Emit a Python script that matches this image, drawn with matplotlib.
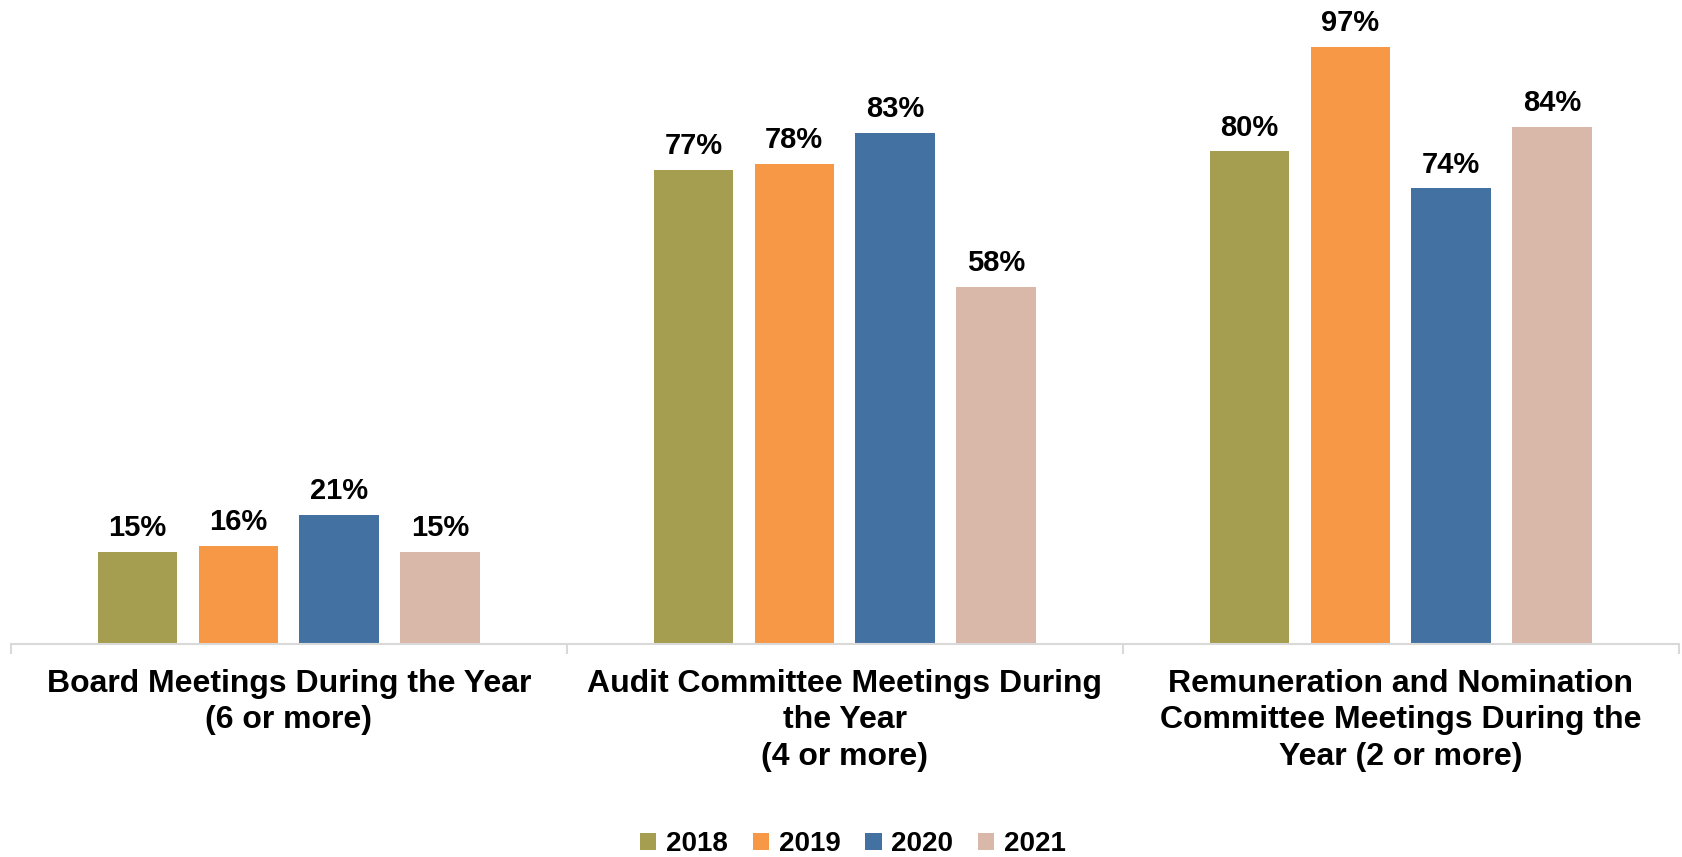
import matplotlib.pyplot as plt
import numpy as np

categories = [
    "Board Meetings During the Year\n(6 or more)",
    "Audit Committee Meetings During\nthe Year\n(4 or more)",
    "Remuneration and Nomination\nCommittee Meetings During the\nYear (2 or more)",
]
years = ["2018", "2019", "2020", "2021"]
values = {
    "2018": [15, 77, 80],
    "2019": [16, 78, 97],
    "2020": [21, 83, 74],
    "2021": [15, 58, 84],
}
colors = ["#A59D4F", "#F79846", "#4372A2", "#D9B7A9"]

plt.rcParams['font.family'] = ['Liberation Sans', 'DejaVu Sans']

fig = plt.figure(figsize=(16.82, 8.57), dpi=100)
ax = fig.add_axes([0.0064, 0.2485, 0.9916, 0.7185])

x = np.arange(len(categories))
step = 0.1813
width = 0.1427
for i, yr in enumerate(years):
    pos = x + (i - 1.5) * step
    bars = ax.bar(pos, values[yr], width, color=colors[i], label=yr)
    for b, v in zip(bars, values[yr]):
        ax.annotate(f"{v}%", (b.get_x() + b.get_width() / 2, v),
                    xytext=(0, 7), textcoords="offset points",
                    ha="center", va="bottom", fontsize=21, fontweight="bold",
                    annotation_clip=False)

ax.set_xlim(-0.5, 2.5)
ax.set_ylim(0, 100)
ax.set_yticks([])
for s in ["top", "left", "right"]:
    ax.spines[s].set_visible(False)
ax.spines["bottom"].set_color("#D9D9D9")
ax.spines["bottom"].set_linewidth(1.5)

ax.set_xticks(x)
ax.set_xticklabels(categories, fontsize=23, fontweight="bold", linespacing=1.28)
ax.tick_params(axis="x", which="major", length=0, pad=18)
ax.set_xticks([-0.5, 0.5, 1.5, 2.5], minor=True)
ax.tick_params(axis="x", which="minor", length=7, width=1.5, color="#D9D9D9", direction="out")

ax.legend(loc="center", bbox_to_anchor=(0.505, -0.3255), ncol=4, frameon=False,
          prop={"size": 20, "weight": "bold"}, handlelength=0.58, handleheight=0.58,
          columnspacing=0.9, handletextpad=0.35, borderpad=0.2)

fig.savefig("out.png", dpi=100)
